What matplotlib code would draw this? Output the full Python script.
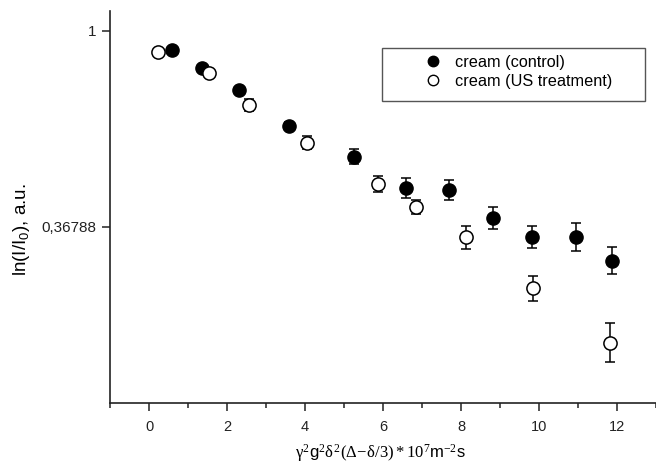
import numpy as np
import matplotlib
matplotlib.use("Agg")
import matplotlib.pyplot as plt
from matplotlib.lines import Line2D
from matplotlib.patches import Rectangle
from matplotlib.ticker import FixedLocator, NullFormatter, NullLocator

plt.rcParams['font.family'] = ['Liberation Sans', 'DejaVu Sans']
plt.rcParams['mathtext.fontset'] = 'custom'
plt.rcParams['mathtext.rm'] = 'Liberation Serif'
plt.rcParams['mathtext.it'] = 'Liberation Serif'
plt.rcParams['mathtext.sf'] = 'Liberation Sans'

# ---- data ----
control_x = [0.59, 1.35, 2.31, 3.59, 5.25, 6.59, 7.68, 8.83, 9.83, 10.96, 11.86]
control_y = [0.908, 0.829, 0.741, 0.616, 0.527, 0.449, 0.444, 0.386, 0.349, 0.349, 0.310]
control_err_ln = [0.012, 0.015, 0.015, 0.02, 0.036, 0.051, 0.051, 0.056, 0.056, 0.071, 0.07]

us_x = [0.22, 1.54, 2.57, 4.04, 5.87, 6.85, 8.14, 9.84, 11.82]
us_y = [0.897, 0.808, 0.685, 0.566, 0.459, 0.408, 0.349, 0.269, 0.204]
us_err_ln = [0.012, 0.02, 0.03, 0.033, 0.041, 0.036, 0.06, 0.064, 0.098]

y_ticks = [0.36788, 1.0]
y_tick_labels = ['0,36788', '1']
x_major = [0, 2, 4, 6, 8, 10, 12]
x_minor = [-1, 1, 3, 5, 7, 9, 11, 13]

labels = ['cream (control)', 'cream (US treatment)']


def asym_err(vals, err_ln):
    v = np.asarray(vals)
    e = np.asarray(err_ln)
    return np.vstack([v - v * np.exp(-e), v * np.exp(e) - v])


W, H = 656, 466
L, R, T, B = 110, 656, 11, 403

fig = plt.figure(figsize=(W / 100, H / 100), dpi=100)
ax = fig.add_axes([L / W, (H - B) / H, (R - L) / W, (B - T) / H])

ax.errorbar(control_x, control_y, yerr=asym_err(control_y, control_err_ln),
            fmt='o', ms=9.5, mfc='black', mec='black', color='black',
            elinewidth=1.1, capsize=3.6, capthick=1.1, zorder=3)
ax.errorbar(us_x, us_y, yerr=asym_err(us_y, us_err_ln),
            fmt='o', ms=9.5, mfc='white', mec='black', mew=1.1, color='black',
            elinewidth=1.1, capsize=3.6, capthick=1.1, zorder=3)

ax.set_yscale('log')
ax.set_ylim(0.1499, 1.107)
ax.set_xlim(-1, 13)

ax.yaxis.set_major_locator(FixedLocator(y_ticks))
ax.set_yticklabels(y_tick_labels)
ax.yaxis.set_minor_locator(NullLocator())
ax.yaxis.set_minor_formatter(NullFormatter())

ax.xaxis.set_major_locator(FixedLocator(x_major))
ax.xaxis.set_minor_locator(FixedLocator(x_minor))

ax.tick_params(axis='both', which='major', direction='out', length=6, width=1.1,
               colors='#222222')
ax.tick_params(axis='y', which='major', labelsize=11)
ax.tick_params(axis='x', which='major', labelsize=10.5, pad=6)
ax.tick_params(axis='x', which='minor', direction='out', length=3.5, width=1.1,
               colors='#222222')

for s in ['top', 'right']:
    ax.spines[s].set_visible(False)
for s in ['left', 'bottom']:
    ax.spines[s].set_linewidth(1.2)
    ax.spines[s].set_color('#222222')

ax.set_xlabel(r'$\gamma^2\mathsf{g}^2\delta^2(\Delta\!-\!\delta/3)*10^7\mathsf{m}^{-2}\mathsf{s}$',
              fontsize=12)
ax.xaxis.set_label_coords(0.495, -0.10)
ax.set_ylabel(r'ln(I/I$\mathsf{_0}$), a.u.', fontsize=13.5)
ax.yaxis.set_label_coords(-0.143, (B - 230) / (B - T))

# legend: markers only, with a separate rectangular frame
handles = [
    Line2D([], [], ls='none', marker='o', ms=7.5, mfc='black', mec='black'),
    Line2D([], [], ls='none', marker='o', ms=7.5, mfc='white', mec='black', mew=1.0),
]
leg = ax.legend(handles, labels, loc='upper left',
                bbox_to_anchor=((421 - L) / (R - L), (B - 55) / (B - T)),
                fontsize=11.7, frameon=False, borderpad=0, borderaxespad=0,
                handlelength=1.5, handletextpad=0.6, labelspacing=0.25)
frame = Rectangle(((382 - L) / (R - L), (B - 101) / (B - T)),
                  (645 - 382) / (R - L), (101 - 48) / (B - T),
                  transform=ax.transAxes, fill=False, edgecolor='#555555',
                  linewidth=1.0, zorder=4)
ax.add_patch(frame)

fig.savefig('out.png', dpi=100)
